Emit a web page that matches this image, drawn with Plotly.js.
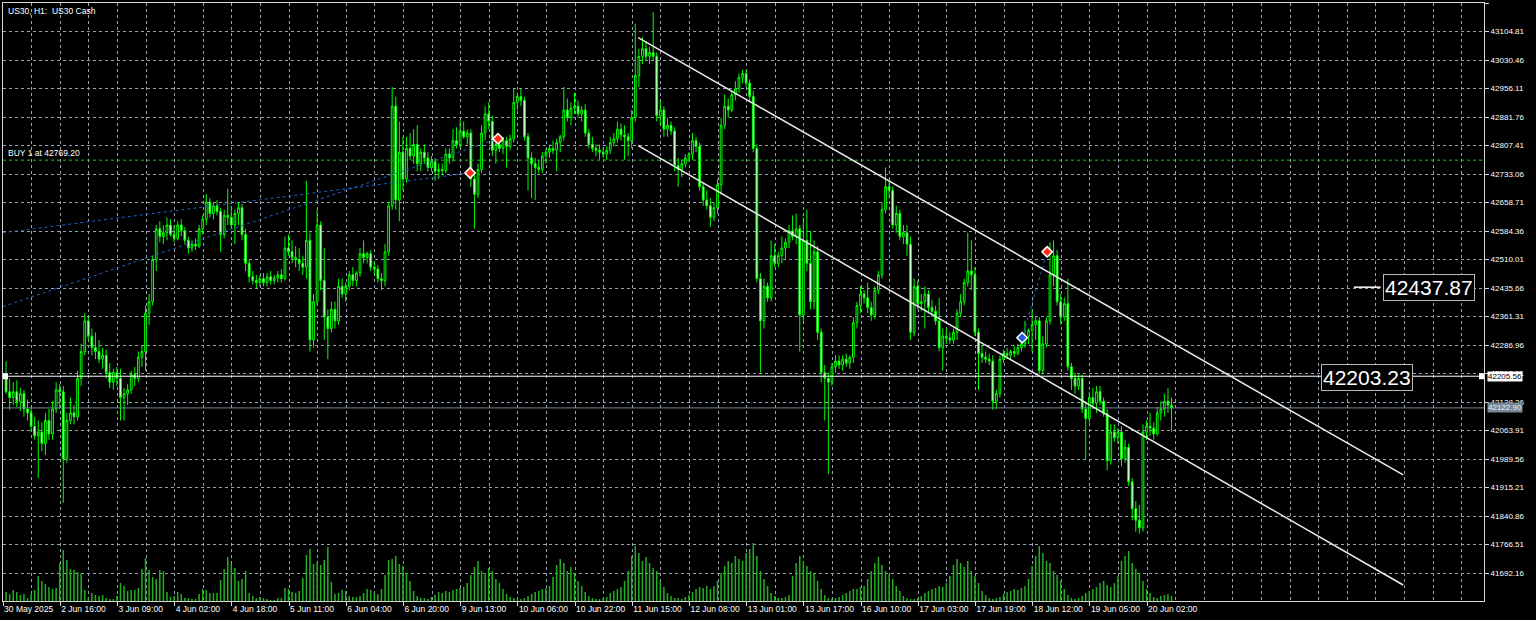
<!DOCTYPE html>
<html>
<head>
<meta charset="utf-8">
<script src="https://cdn.plot.ly/plotly-3.0.1.min.js"></script>
<style>
html, body { margin: 0; padding: 0; background: #000; }
#chart { width: 1536px; height: 620px; }
</style>
</head>
<body>
<div id="chart"></div>
<script>
// US30 Cash, H1 bars from 30 May 2025 to 20 Jun 2025
const openP = [42205,42165,42150,42165,42140,42160,42120,42110,42075,42050,42060,42030,42090,42055,42120,42170,42165,41990,42090,42110,
42100,42200,42270,42350,42310,42280,42270,42250,42260,42215,42190,42215,42200,42150,42160,42170,42210,42200,42255,42270,
42370,42400,42510,42590,42570,42580,42600,42575,42565,42600,42585,42560,42540,42550,42545,42590,42615,42660,42630,42650,
42635,42575,42625,42620,42600,42630,42645,42575,42500,42465,42455,42450,42460,42450,42465,42455,42462,42470,42460,42540,
42530,42515,42510,42500,42490,42560,42300,42400,42600,42455,42360,42330,42380,42350,42440,42420,42440,42470,42455,42475,
42525,42515,42525,42490,42485,42460,42455,42530,42650,42910,42665,42790,42720,42800,42780,42810,42760,42790,42775,42750,
42765,42740,42745,42742,42785,42775,42820,42810,42845,42830,42840,42720,42680,42745,42840,42890,42870,42795,42810,42800,
42820,42805,42825,42920,42935,42925,42830,42775,42760,42750,42745,42780,42790,42800,42795,42815,42830,42900,42880,42905,
42910,42890,42900,42840,42810,42800,42795,42790,42785,42795,42815,42825,42850,42835,42830,42820,42880,42990,43040,43060,
43040,43050,43040,42885,42900,42850,42860,42845,42755,42745,42760,42775,42785,42820,42805,42700,42665,42650,42620,42645,
42705,42860,42910,42900,42940,42955,42985,42995,42970,42935,42800,42460,42350,42440,42410,42520,42500,42520,42540,42555,
42585,42570,42590,42365,42560,42500,42400,42530,42320,42215,42200,42190,42230,42245,42235,42250,42240,42255,42345,42390,
42420,42410,42385,42365,42430,42470,42640,42700,42690,42600,42630,42570,42580,42550,42320,42440,42395,42400,42420,42385,
42375,42350,42280,42310,42305,42300,42320,42370,42400,42450,42480,42470,42320,42265,42255,42250,42245,42140,42160,42250,
42265,42260,42270,42265,42280,42290,42310,42325,42340,42350,42220,42290,42350,42470,42520,42400,42360,42395,42230,42200,
42180,42200,42120,42095,42150,42135,42165,42140,42108,41985,42060,42045,42060,41990,42020,41930,41860,41830,41810,42060,
42075,42070,42055,42110,42120,42140,42130];
const highP = [42245,42200,42190,42195,42175,42170,42145,42125,42100,42090,42085,42110,42120,42140,42190,42185,42180,42110,42150,42130,
42220,42290,42370,42360,42330,42320,42300,42280,42275,42240,42225,42230,42225,42175,42185,42220,42230,42270,42285,42390,
42420,42520,42600,42610,42600,42620,42615,42600,42610,42615,42595,42570,42560,42565,42600,42625,42680,42670,42660,42665,
42645,42640,42695,42650,42640,42660,42655,42590,42510,42480,42470,42470,42475,42475,42480,42470,42480,42485,42570,42575,
42560,42545,42540,42520,42715,42580,42420,42640,42610,42540,42380,42400,42400,42460,42460,42450,42480,42490,42480,42540,
42560,42530,42535,42505,42495,42475,42550,42660,42960,42935,42870,42830,42830,42840,42850,42860,42800,42810,42790,42780,
42775,42760,42760,42800,42800,42850,42855,42875,42870,42850,42850,42740,42760,42860,42910,42920,42885,42830,42825,42830,
42830,42835,42955,42945,42955,42935,42840,42790,42775,42770,42790,42800,42810,42820,42825,42835,42960,42930,42920,42945,
42925,42910,42915,42850,42830,42810,42810,42800,42805,42830,42840,42870,42865,42860,42840,42900,43125,43060,43090,43080,
43065,43155,43050,42925,42910,42880,42870,42855,42775,42770,42785,42790,42840,42830,42815,42710,42690,42670,42660,42720,
42880,42940,42930,42950,42975,42995,43005,43005,42980,42950,42810,42475,42460,42450,42560,42550,42530,42570,42565,42600,
42625,42630,42600,42620,42640,42585,42560,42545,42330,42235,42215,42240,42260,42260,42260,42265,42260,42360,42400,42440,
42430,42450,42400,42440,42480,42660,42750,42715,42700,42650,42640,42600,42600,42570,42460,42455,42420,42440,42430,42405,
42390,42410,42330,42330,42320,42330,42380,42420,42460,42580,42560,42490,42330,42285,42270,42265,42260,42170,42260,42275,
42280,42275,42285,42290,42300,42350,42330,42380,42360,42360,42310,42360,42555,42560,42535,42420,42410,42460,42240,42215,
42210,42210,42140,42165,42175,42180,42180,42150,42120,42080,42080,42070,42075,42040,42030,41940,41880,41870,42080,42090,
42110,42085,42125,42140,42160,42175,42150];
const lowP = [42160,42118,42130,42125,42115,42100,42090,42060,42040,41940,42010,42000,42040,42040,42110,42120,41875,41980,42080,42080,
42090,42180,42260,42300,42260,42250,42240,42225,42200,42175,42170,42180,42090,42090,42130,42160,42180,42190,42230,42220,
42340,42390,42480,42555,42550,42560,42570,42555,42560,42570,42550,42525,42530,42535,42540,42575,42600,42620,42615,42625,
42530,42565,42600,42590,42550,42600,42560,42480,42450,42445,42435,42440,42440,42440,42445,42445,42450,42450,42455,42520,
42500,42490,42480,42470,42460,42270,42280,42390,42430,42300,42250,42320,42330,42340,42410,42400,42430,42440,42440,42465,
42500,42500,42480,42470,42450,42430,42440,42520,42640,42640,42610,42690,42710,42770,42760,42740,42740,42760,42740,42740,
42715,42720,42730,42735,42760,42765,42800,42800,42825,42810,42700,42590,42670,42735,42820,42850,42780,42760,42790,42785,
42750,42795,42815,42900,42910,42820,42690,42670,42665,42735,42735,42760,42775,42785,42740,42790,42820,42870,42860,42890,
42880,42870,42830,42800,42790,42780,42770,42775,42770,42785,42805,42815,42820,42770,42780,42800,42870,42960,43020,43030,
43020,43030,42870,42860,42830,42830,42835,42740,42700,42725,42750,42765,42770,42790,42690,42650,42640,42595,42610,42630,
42680,42850,42880,42895,42925,42945,42970,42960,42920,42790,42450,42215,42330,42400,42400,42490,42490,42500,42510,42540,
42560,42550,42270,42350,42480,42380,42380,42300,42190,42090,41950,42180,42215,42225,42220,42230,42225,42240,42330,42370,
42395,42370,42350,42355,42420,42460,42630,42670,42590,42580,42560,42550,42520,42300,42310,42380,42375,42330,42370,42360,
42340,42270,42220,42290,42290,42290,42300,42360,42390,42440,42430,42310,42170,42240,42240,42235,42118,42120,42150,42240,
42250,42250,42255,42260,42270,42280,42290,42270,42300,42210,42210,42280,42340,42440,42390,42340,42350,42220,42170,42160,
42170,42110,41990,42085,42120,42110,42130,42100,41960,41975,42035,42030,41970,41980,41920,41830,41800,41795,41800,42040,
42050,42040,42050,42090,42100,42110,42060];
const closeP = [42165,42150,42165,42140,42160,42120,42110,42075,42050,42060,42030,42090,42055,42120,42170,42165,41990,42090,42110,42100,
42200,42270,42350,42310,42280,42270,42250,42260,42215,42190,42215,42200,42150,42160,42170,42210,42200,42255,42270,42370,
42400,42510,42590,42570,42580,42600,42575,42565,42600,42585,42560,42540,42550,42545,42590,42615,42660,42630,42650,42635,
42575,42625,42620,42600,42630,42645,42575,42500,42465,42455,42450,42460,42450,42465,42455,42462,42470,42460,42540,42530,
42515,42510,42500,42490,42560,42300,42400,42600,42455,42360,42330,42380,42350,42440,42420,42440,42470,42455,42475,42525,
42515,42525,42490,42485,42460,42455,42530,42650,42910,42665,42790,42720,42800,42780,42810,42760,42790,42775,42750,42765,
42740,42745,42742,42785,42775,42820,42810,42845,42830,42840,42720,42680,42745,42840,42890,42870,42795,42810,42800,42820,
42805,42825,42920,42935,42925,42830,42775,42760,42750,42745,42780,42790,42800,42795,42815,42830,42900,42880,42905,42910,
42890,42900,42840,42810,42800,42795,42790,42785,42795,42815,42825,42850,42835,42830,42820,42880,42990,43040,43060,43040,
43050,43040,42885,42900,42850,42860,42845,42755,42745,42760,42775,42785,42820,42805,42700,42665,42650,42620,42645,42705,
42860,42910,42900,42940,42955,42985,42995,42970,42935,42800,42460,42350,42440,42410,42520,42500,42520,42540,42555,42585,
42570,42590,42365,42560,42500,42400,42530,42320,42215,42200,42190,42230,42245,42235,42250,42240,42255,42345,42390,42420,
42410,42385,42365,42430,42470,42640,42700,42690,42600,42630,42570,42580,42550,42320,42440,42395,42400,42420,42385,42375,
42350,42280,42310,42305,42300,42320,42370,42400,42450,42480,42470,42320,42265,42255,42250,42245,42140,42160,42250,42265,
42260,42270,42265,42280,42290,42310,42325,42340,42350,42220,42290,42350,42470,42520,42400,42360,42395,42230,42200,42180,
42200,42120,42095,42150,42135,42165,42140,42108,41985,42060,42045,42060,41990,42020,41930,41860,41830,41810,42060,42075,
42070,42055,42110,42120,42140,42130,42122.9];
// tick volume per bar, in hundreds of ticks
const volumes = [9,7,11,9,6,7,3,7,11,25,20,17,14,12,13,38,51,41,32,31,29,28,11,3,8,6,5,6,3,2,
2,5,18,15,10,11,11,13,32,43,31,24,22,31,30,9,4,5,9,7,3,3,2,2,7,12,11,8,8,8,
21,32,44,37,33,20,22,30,8,5,3,4,3,2,1,1,3,3,13,12,9,8,10,23,46,52,37,39,36,41,
54,19,7,8,11,10,5,4,4,5,8,12,11,8,7,12,26,41,42,45,37,
35,28,20,10,5,3,3,2,4,6,9,8,10,9,11,12,13,
14,18,26,34,40,30,28,33,30,22,18,12,7,4,3,2,2,3,5,7,9,10,12,
13,15,24,36,42,38,30,34,28,20,15,9,5,3,2,2,3,4,8,10,12,14,20,
30,45,55,48,40,44,38,33,30,20,14,8,5,3,3,2,4,6,9,12,14,13,15,
12,15,20,28,35,40,38,45,42,40,48,52,58,45,30,22,15,8,5,3,3,4,6,
25,38,45,40,35,30,28,20,12,6,3,2,3,4,6,8,10,12,12,14,15,22,30,
38,44,36,30,26,22,15,10,5,3,2,2,3,5,8,10,12,13,15,14,18,25,36,
42,38,34,40,30,25,18,10,6,3,2,3,4,7,9,10,12,11,13,15,22,35,45,
55,48,40,38,30,26,20,12,6,3,2,3,5,8,10,12,14,18,20,16,14,18,25,
40,45,50,38,32,28,20,12,8,4,3,5,6,7,5];

// time axis labels, one every 16 bars
const timeLabels = ['30 May 2025','2 Jun 16:00','3 Jun 09:00','4 Jun 02:00','4 Jun 18:00','5 Jun 11:00',
  '6 Jun 04:00','6 Jun 20:00','9 Jun 13:00','10 Jun 06:00','10 Jun 22:00','11 Jun 15:00','12 Jun 08:00',
  '13 Jun 01:00','13 Jun 17:00','16 Jun 10:00','17 Jun 03:00','17 Jun 19:00','18 Jun 12:00','19 Jun 05:00','20 Jun 02:00'];
// price scale labels
const priceTicks = [43179.16,43104.81,43030.46,42956.11,42881.76,42807.41,42733.06,42658.71,42584.36,42510.01,
  42435.66,42361.31,42286.96,42212.61,42138.26,42063.91,41989.56,41915.21,41840.86,41766.51,41692.16];

// levels and objects on the chart
const buyPrice = 42769.20;
const hLinePrice = 42205.56;
const bidPrice = 42122.90;
const priceLabelA = 42437.87;
const priceLabelB = 42203.23;
// descending channel: [bar, price] end points
const channelUpper = [[176.8, 43089], [390.8, 41948]];
const channelLower = [[176.8, 42807], [390.8, 41661]];
// trade history: open/close links and close markers
const tradeLinks = [
  {x: [-0.9, 129.8], y: [42580, 42736]},
  {x: [-0.9, 137.6], y: [42387, 42825]},
  {x: [284.2, 291.2], y: [42306, 42530]}
];
const sellMarksX = [129.8, 137.6, 291.2];
const sellMarksY = [42736, 42825, 42530];
const buyMarksX = [284.2];
const buyMarksY = [42306];

const bars = openP.map((_, i) => i);
const GRID = '#97a3b3';
const FRAME = '#d8d8d8';

const traces = [
  {type: 'bar', x: bars, y: volumes, yaxis: 'y2', width: 0.42,
   marker: {color: '#22b022', line: {width: 0}}, hoverinfo: 'skip'},
  {type: 'candlestick', x: bars, open: openP, high: highP, low: lowP, close: closeP,
   increasing: {line: {color: '#00ff00', width: 1}, fillcolor: '#000000'},
   decreasing: {line: {color: '#00ff00', width: 1}, fillcolor: '#ffffff'},
   whiskerwidth: 0, hoverinfo: 'skip'}
];
tradeLinks.forEach(t => traces.push({type: 'scatter', mode: 'lines', x: t.x, y: t.y,
  line: {color: '#1f62c0', width: 1, dash: 'dot'}, hoverinfo: 'skip'}));
traces.push({type: 'scatter', mode: 'markers', x: sellMarksX, y: sellMarksY,
  marker: {symbol: 'diamond', size: 8, color: '#ff2a1a', line: {color: '#ffffff', width: 1.5}}, hoverinfo: 'skip'});
traces.push({type: 'scatter', mode: 'markers', x: buyMarksX, y: buyMarksY,
  marker: {symbol: 'diamond', size: 8, color: '#2a5ad8', line: {color: '#ffffff', width: 1.5}}, hoverinfo: 'skip'});

const fullLine = (price, color, dash) => ({type: 'line', xref: 'paper', x0: 0, x1: 1, yref: 'y', y0: price, y1: price,
  line: {color: color, width: 1, dash: dash}, layer: 'above'});

const shapes = [
  fullLine(buyPrice, '#00e000', '3px,3px'),
  fullLine(bidPrice, '#778899', 'solid'),
  fullLine(hLinePrice, '#ffffff', 'solid'),
  {type: 'rect', xref: 'paper', xsizemode: 'pixel', xanchor: 0, x0: 0, x1: 5, yref: 'y', ysizemode: 'pixel',
   yanchor: hLinePrice, y0: -3, y1: 3, fillcolor: '#ffffff', line: {width: 0}},
  {type: 'rect', xref: 'paper', xsizemode: 'pixel', xanchor: 1, x0: -5, x1: 0, yref: 'y', ysizemode: 'pixel',
   yanchor: hLinePrice, y0: -3, y1: 3, fillcolor: '#ffffff', line: {width: 0}},
  {type: 'line', xref: 'x', yref: 'y', x0: channelUpper[0][0], y0: channelUpper[0][1], x1: channelUpper[1][0], y1: channelUpper[1][1],
   line: {color: '#ececec', width: 1.5}, layer: 'above'},
  {type: 'line', xref: 'x', yref: 'y', x0: channelLower[0][0], y0: channelLower[0][1], x1: channelLower[1][0], y1: channelLower[1][1],
   line: {color: '#ececec', width: 1.5}, layer: 'above'},
  {type: 'line', xref: 'x', yref: 'y', x0: 377, x1: 384.5, y0: priceLabelA, y1: priceLabelA,
   line: {color: '#ffffff', width: 1.5}, layer: 'above'}
];

const annotations = [
  {xref: 'paper', yref: 'paper', x: 0, y: 1, xanchor: 'left', yanchor: 'top', xshift: 3, yshift: -1,
   text: 'US30, H1:  US30 Cash', showarrow: false, font: {size: 8.5, color: '#ffffff'}},
  {xref: 'paper', yref: 'y', x: 0, y: buyPrice, xanchor: 'left', yanchor: 'bottom', xshift: 3, yshift: 0,
   text: 'BUY 1 at ' + buyPrice.toFixed(2), showarrow: false, font: {size: 8.5, color: '#ffffff'}},
  {xref: 'x', yref: 'y', x: 398, y: priceLabelA, text: priceLabelA.toFixed(2), showarrow: false,
   font: {size: 21, color: '#ffffff'}, bgcolor: '#000000', bordercolor: '#b8b8b8', borderwidth: 1, borderpad: 1},
  {xref: 'x', yref: 'y', x: 380.8, y: priceLabelB, text: priceLabelB.toFixed(2), showarrow: false,
   font: {size: 21, color: '#ffffff'}, bgcolor: '#000000', bordercolor: '#b8b8b8', borderwidth: 1, borderpad: 1},
  {xref: 'paper', yref: 'y', x: 1, y: hLinePrice, xanchor: 'left', xshift: 3, text: hLinePrice.toFixed(2), showarrow: false,
   font: {size: 8, color: '#000000'}, bgcolor: '#ffffff', borderpad: 0},
  {xref: 'paper', yref: 'y', x: 1, y: bidPrice, xanchor: 'left', xshift: 3, text: bidPrice.toFixed(2), showarrow: false,
   font: {size: 8, color: '#e8eef8'}, bgcolor: '#778899', borderpad: 0}
];

const layout = {
  width: 1536, height: 620,
  paper_bgcolor: '#000000', plot_bgcolor: '#000000',
  margin: {l: 3, r: 52, t: 3, b: 19, pad: 0},
  showlegend: false,
  font: {family: 'Liberation Sans, Arial, sans-serif', color: '#ffffff', size: 8},
  xaxis: {
    type: 'linear', range: [-0.86, 413.4], rangeslider: {visible: false}, fixedrange: true,
    tickmode: 'array', tickvals: timeLabels.map((_, k) => k * 16 - 0.84), ticktext: timeLabels,
    ticks: 'outside', ticklen: 4, tickcolor: FRAME, ticklabelposition: 'outside right', tickangle: 0,
    ticklabelstandoff: 0,
    tickfont: {size: 8.5, color: '#ffffff'},
    showgrid: true, gridcolor: GRID, griddash: '3px,3px', gridwidth: 1,
    minor: {tickmode: 'linear', tick0: -0.84, dtick: 8, showgrid: true, gridcolor: GRID, griddash: '3px,3px', ticklen: 0},
    showline: true, linecolor: FRAME, linewidth: 1, mirror: true, zeroline: false
  },
  yaxis: {
    range: [41619.2, 43179.16], side: 'right', fixedrange: true,
    tickmode: 'array', tickvals: priceTicks, ticktext: priceTicks.map(v => v.toFixed(2)),
    ticks: 'outside', ticklen: 4, tickcolor: FRAME, tickfont: {size: 8, color: '#ffffff'},
    showgrid: true, gridcolor: GRID, griddash: '3px,3px', gridwidth: 1,
    showline: true, linecolor: FRAME, linewidth: 1, mirror: true, zeroline: false
  },
  yaxis2: {overlaying: 'y', range: [0, 598], visible: false, fixedrange: true},
  shapes: shapes,
  annotations: annotations
};

Plotly.newPlot('chart', traces, layout, {staticPlot: true, displayModeBar: false});
</script>
</body>
</html>
